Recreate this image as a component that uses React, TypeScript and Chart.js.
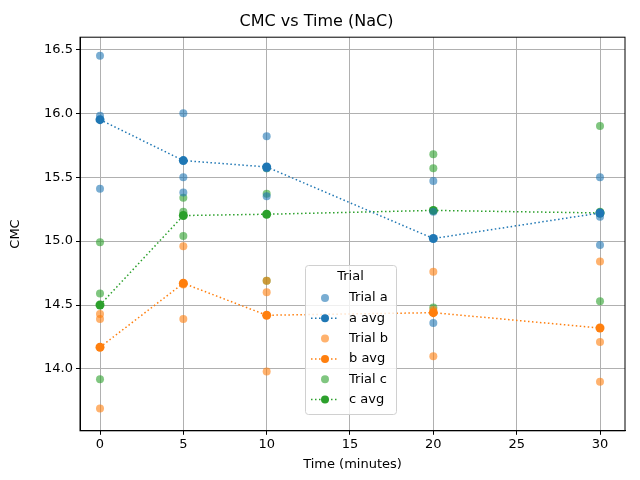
import React, { useEffect, useRef } from "react";
import { Chart, registerables } from "chart.js";
Chart.register(...registerables);

const times = [0, 5, 10, 20, 30];
const trialA = [[16.45, 15.98, 15.41], [16.0, 15.5, 15.38], [15.82, 15.35, 15.57], [15.47, 14.36, 15.23], [15.5, 14.97, 15.19]];
const trialB = [[14.43, 14.39, 13.69], [14.96, 14.39, 14.66], [14.69, 14.6, 13.98], [14.76, 14.1, 14.46], [14.84, 14.21, 13.9]];
const trialC = [[14.99, 14.59, 13.92], [15.34, 15.23, 15.04], [15.57, 15.37, 14.69], [15.68, 15.57, 14.48], [15.9, 14.53, 15.23]];
const avgA = [15.95, 15.63, 15.58, 15.02, 15.22];
const avgB = [14.17, 14.67, 14.42, 14.44, 14.32];
const avgC = [14.5, 15.2, 15.21, 15.24, 15.22];
const xTicks = [0, 5, 10, 15, 20, 25, 30];
const yTicks = [14.0, 14.5, 15.0, 15.5, 16.0, 16.5];

const colors = ["#1f77b4", "#ff7f0e", "#2ca02c"];
const alpha = (c: string) => c + "99";
const FONT = "'DejaVu Sans', sans-serif";

function scatterPts(trial: number[][]) {
  const pts: { x: number; y: number }[] = [];
  trial.forEach((vals, i) => vals.forEach((v) => pts.push({ x: times[i], y: v })));
  return pts;
}

const legendPlugin = {
  id: "innerLegend",
  afterDraw(chart: any) {
    const ctx = chart.ctx;
    const x0 = 305, y0 = 265, w = 91, h = 149;
    ctx.save();
    ctx.fillStyle = "rgba(255,255,255,0.8)";
    ctx.strokeStyle = "#d0d0d0";
    ctx.lineWidth = 1;
    ctx.beginPath();
    (ctx as any).roundRect(x0 + 0.5, y0 + 0.5, w, h, 3);
    ctx.fill();
    ctx.stroke();
    ctx.fillStyle = "#000";
    ctx.font = `13px ${FONT}`;
    ctx.textAlign = "center";
    ctx.textBaseline = "middle";
    ctx.fillText("Trial", x0 + w / 2, y0 + 12);
    ctx.textAlign = "left";
    chart.data.datasets.forEach((ds: any, i: number) => {
      const yy = y0 + 33 + i * 20.3;
      const mx = x0 + 20;
      if (ds.showLine) {
        ctx.strokeStyle = ds.borderColor;
        ctx.setLineDash([1.5, 2.5]);
        ctx.lineWidth = 1.5;
        ctx.beginPath();
        ctx.moveTo(x0 + 6, yy);
        ctx.lineTo(x0 + 34, yy);
        ctx.stroke();
        ctx.setLineDash([]);
      }
      ctx.fillStyle = ds.pointBackgroundColor;
      ctx.beginPath();
      ctx.arc(mx, yy, 4, 0, Math.PI * 2);
      ctx.fill();
      ctx.fillStyle = "#000";
      ctx.fillText(ds.label, x0 + 44, yy);
    });
    ctx.restore();
  },
};

export default function App() {
  const ref = useRef<HTMLCanvasElement>(null);
  useEffect(() => {
    const trials = [trialA, trialB, trialC];
    const avgs = [avgA, avgB, avgC];
    const names = ["a", "b", "c"];
    const datasets: any[] = [];
    trials.forEach((t, i) => {
      datasets.push({
        label: `Trial ${names[i]}`,
        data: scatterPts(t),
        showLine: false,
        pointRadius: 4,
        pointBorderWidth: 0,
        pointBackgroundColor: alpha(colors[i]),
        borderColor: alpha(colors[i]),
        backgroundColor: alpha(colors[i]),
      });
      datasets.push({
        label: `${names[i]} avg`,
        data: times.map((x, j) => ({ x, y: avgs[i][j] })),
        showLine: true,
        borderDash: [1.5, 2.5],
        borderWidth: 1.5,
        pointRadius: 4.5,
        pointBorderWidth: 0,
        pointBackgroundColor: colors[i],
        borderColor: colors[i],
        backgroundColor: colors[i],
      });
    });
    const chart = new Chart(ref.current!, {
      type: "scatter",
      data: { datasets },
      options: {
        animation: false,
        responsive: false,
        layout: { padding: { left: 8, right: 15, top: 0, bottom: 0 } },
        plugins: {
          legend: { display: false },
          tooltip: { enabled: false },
          title: { display: true, text: "CMC vs Time (NaC)", font: { family: FONT, size: 16, weight: "normal" }, color: "#000", padding: { top: 12, bottom: 6 } },
        },
        scales: {
          x: {
            type: "linear", min: -1.2, max: 31.5,
            afterBuildTicks: (s: any) => { s.ticks = xTicks.map((v) => ({ value: v })); },
            grid: { color: "#b0b0b0", drawTicks: true, tickLength: 4, tickColor: "#000" },
            border: { color: "#000", display: true },
            ticks: { color: "#000", font: { family: FONT, size: 13 }, maxRotation: 0, padding: 2 },
            title: { display: true, text: "Time (minutes)", color: "#000", font: { family: FONT, size: 13 }, padding: { top: 2, bottom: 8 } },
          },
          y: {
            min: 13.516, max: 16.595,
            afterBuildTicks: (s: any) => { s.ticks = yTicks.map((v) => ({ value: v })); },
            afterFit: (s: any) => { s.width = 72; },
            grid: { color: "#b0b0b0", tickLength: 4, tickColor: "#000" },
            border: { color: "#000" },
            ticks: { color: "#000", font: { family: FONT, size: 13 }, padding: 3, callback: (v: any) => Number(v).toFixed(1) },
            title: { display: true, text: "CMC", color: "#000", font: { family: FONT, size: 13 }, padding: 0 },
          },
        },
      },
      plugins: [
        legendPlugin,
        {
          id: "box",
          afterDraw(c: any) {
            const { left, right, top, bottom } = c.chartArea;
            c.ctx.save();
            c.ctx.strokeStyle = "#000";
            c.ctx.lineWidth = 1;
            c.ctx.strokeRect(left, top, right - left, bottom - top);
            c.ctx.restore();
          },
        },
      ],
    });
    return () => chart.destroy();
  }, []);
  return (
    <div style={{ position: "absolute", left: 0, top: 0, width: 640, height: 480, background: "#fff" }}>
      <canvas ref={ref} width={640} height={480} />
    </div>
  );
}
